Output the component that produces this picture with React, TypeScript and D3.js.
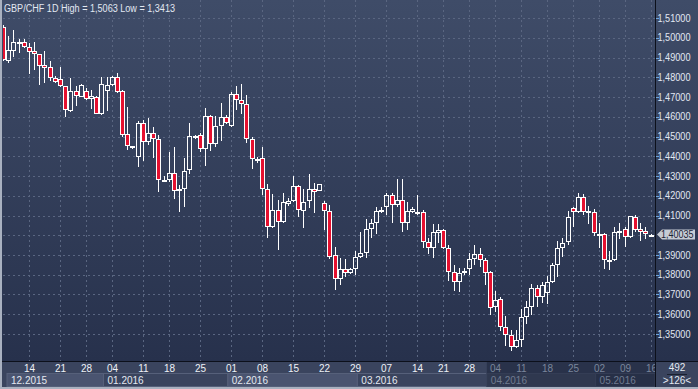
import * as d3 from 'd3';

// GBP/CHF daily candles, Dec 2015 - May 2016 (126 visible bars)
const opens = [
  1.5054, 1.4884, 1.4934, 1.4973, 1.4978, 1.4952, 1.4931, 1.4918, 1.4862, 1.4850,
  1.4795, 1.4790, 1.4756, 1.4631, 1.4730, 1.4702, 1.4730, 1.4691, 1.4702, 1.4612,
  1.4732, 1.4759, 1.4800, 1.4730, 1.4513, 1.4452, 1.4398, 1.4567, 1.4474, 1.4516,
  1.4486, 1.4275, 1.4280, 1.4314, 1.4223, 1.4233, 1.4330, 1.4504, 1.4506, 1.4435,
  1.4604, 1.4462, 1.4553, 1.4597, 1.4553, 1.4715, 1.4685, 1.4663, 1.4486, 1.4385,
  1.4390, 1.4233, 1.4040, 1.4128, 1.4066, 1.4157, 1.4175, 1.4251, 1.4124, 1.4175,
  1.4233, 1.4226, 1.4165, 1.4124, 1.3900, 1.3777, 1.3828, 1.3807, 1.3828, 1.3891,
  1.3909, 1.4030, 1.4060, 1.4128, 1.4142, 1.4204, 1.4153, 1.4178, 1.4060, 1.4119,
  1.4120, 1.4119, 1.3967, 1.3934, 1.4013, 1.4027, 1.3934, 1.3815, 1.3765, 1.3807,
  1.3828, 1.3878, 1.3904, 1.3875, 1.3812, 1.3635, 1.3676, 1.3537, 1.3495, 1.3433,
  1.3470, 1.3585, 1.3635, 1.3731, 1.3686, 1.3706, 1.3765, 1.3849, 1.3934, 1.3964,
  1.4136, 1.4119, 1.4192, 1.4119, 1.4119, 1.4005, 1.4006, 1.3875, 1.3875, 1.4014,
  1.4030, 1.3990, 1.4094, 1.4030, 1.4021, 1.3996,
];
const highs = [
  1.5063, 1.5009, 1.5039, 1.4994, 1.4994, 1.4975, 1.4978, 1.4920, 1.4934, 1.4881,
  1.4806, 1.4850, 1.4758, 1.4795, 1.4756, 1.4766, 1.4747, 1.4735, 1.4705, 1.4803,
  1.4801, 1.4805, 1.4822, 1.4735, 1.4648, 1.4452, 1.4580, 1.4584, 1.4592, 1.4547,
  1.4508, 1.4300, 1.4423, 1.4448, 1.4254, 1.4390, 1.4567, 1.4506, 1.4519, 1.4643,
  1.4609, 1.4604, 1.4668, 1.4609, 1.4727, 1.4756, 1.4766, 1.4710, 1.4499, 1.4395,
  1.4445, 1.4259, 1.4209, 1.4178, 1.4212, 1.4187, 1.4300, 1.4255, 1.4233, 1.4310,
  1.4263, 1.4262, 1.4175, 1.4153, 1.3942, 1.3883, 1.3878, 1.3835, 1.3922, 1.4018,
  1.4081, 1.4081, 1.4145, 1.4145, 1.4215, 1.4212, 1.4283, 1.4283, 1.4170, 1.4145,
  1.4204, 1.4128, 1.3985, 1.4057, 1.4057, 1.4030, 1.3951, 1.3849, 1.3833, 1.3833,
  1.3909, 1.3951, 1.3934, 1.3883, 1.3821, 1.3718, 1.3689, 1.3591, 1.3520, 1.3520,
  1.3625, 1.3669, 1.3753, 1.3748, 1.3765, 1.3794, 1.3858, 1.3972, 1.3985, 1.4124,
  1.4142, 1.4212, 1.4209, 1.4148, 1.4131, 1.4064, 1.4010, 1.3922, 1.4043, 1.4064,
  1.4043, 1.4099, 1.4103, 1.4060, 1.4043, 1.4007,
];
const lows = [
  1.4882, 1.4872, 1.4903, 1.4923, 1.4948, 1.4816, 1.4837, 1.4761, 1.4772, 1.4783,
  1.4769, 1.4752, 1.4597, 1.4626, 1.4654, 1.4699, 1.4685, 1.4641, 1.4612, 1.4610,
  1.4629, 1.4755, 1.4720, 1.4497, 1.4432, 1.4437, 1.4347, 1.4377, 1.4457, 1.4393,
  1.4220, 1.4270, 1.4271, 1.4182, 1.4119, 1.4142, 1.4310, 1.4489, 1.4423, 1.4351,
  1.4427, 1.4448, 1.4479, 1.4563, 1.4547, 1.4634, 1.4612, 1.4466, 1.4337, 1.4364,
  1.4204, 1.3985, 1.4038, 1.3925, 1.4061, 1.4150, 1.4170, 1.4094, 1.4035, 1.4136,
  1.4114, 1.4224, 1.4027, 1.3881, 1.3723, 1.3748, 1.3787, 1.3805, 1.3799, 1.3886,
  1.3886, 1.3985, 1.4006, 1.4112, 1.4103, 1.4060, 1.4142, 1.4018, 1.4027, 1.4115,
  1.4103, 1.3934, 1.3905, 1.3883, 1.3962, 1.3930, 1.3770, 1.3719, 1.3714, 1.3800,
  1.3799, 1.3849, 1.3841, 1.3748, 1.3596, 1.3613, 1.3517, 1.3439, 1.3413, 1.3428,
  1.3436, 1.3551, 1.3596, 1.3638, 1.3655, 1.3652, 1.3757, 1.3790, 1.3891, 1.3951,
  1.4043, 1.4111, 1.4103, 1.4055, 1.3996, 1.3934, 1.3828, 1.3824, 1.3870, 1.3980,
  1.3942, 1.3985, 1.4015, 1.3972, 1.3980, 1.3993,
];
const closes = [
  1.4887, 1.4938, 1.4978, 1.4976, 1.4955, 1.4929, 1.4916, 1.4858, 1.4848, 1.4795,
  1.4774, 1.4756, 1.4634, 1.4730, 1.4704, 1.4759, 1.4691, 1.4704, 1.4614, 1.4764,
  1.4759, 1.4800, 1.4727, 1.4508, 1.4452, 1.4444, 1.4567, 1.4474, 1.4516, 1.4486,
  1.4280, 1.4282, 1.4314, 1.4224, 1.4233, 1.4327, 1.4504, 1.4491, 1.4435, 1.4604,
  1.4462, 1.4553, 1.4597, 1.4570, 1.4715, 1.4685, 1.4663, 1.4486, 1.4385, 1.4374,
  1.4233, 1.4040, 1.4128, 1.4066, 1.4167, 1.4173, 1.4251, 1.4128, 1.4170, 1.4233,
  1.4218, 1.4259, 1.4124, 1.3891, 1.3777, 1.3828, 1.3807, 1.3831, 1.3891, 1.3909,
  1.4030, 1.4060, 1.4124, 1.4116, 1.4204, 1.4153, 1.4178, 1.4060, 1.4124, 1.4131,
  1.4119, 1.3967, 1.3934, 1.4018, 1.4027, 1.3934, 1.3815, 1.3765, 1.3807, 1.3817,
  1.3878, 1.3904, 1.3875, 1.3807, 1.3630, 1.3672, 1.3537, 1.3495, 1.3433, 1.3470,
  1.3585, 1.3635, 1.3731, 1.3686, 1.3748, 1.3765, 1.3849, 1.3934, 1.3962, 1.4091,
  1.4119, 1.4192, 1.4119, 1.4121, 1.4010, 1.4007, 1.3875, 1.3877, 1.4018, 1.4021,
  1.3990, 1.4097, 1.4027, 1.4018, 1.4005, 1.40035,
];

const weekLabels = ['14', '21', '28', '04', '11', '18', '25', '01', '08', '15', '22', '29',
  '07', '14', '21', '28', '04', '11', '18', '25', '02', '09', '16'];
const weekBars = [5, 11, 16, 21, 27, 32, 38, 44, 50, 56, 62, 68, 74, 80, 85, 90, 95, 100, 105, 110, 115, 120, 125];
const monthLabels = ['12.2015', '01.2016', '02.2016', '03.2016', '04.2016', '05.2016'];
const monthStartBars = [0, 20, 44, 69, 94, 115];
const priceTicks = [1.35, 1.36, 1.37, 1.38, 1.39, 1.40, 1.41, 1.42, 1.43, 1.44, 1.45, 1.46, 1.47, 1.48, 1.49, 1.50, 1.51];
const lastPrice = 1.40035;
const shadeFromBar = 94;
const totalBars = 492;

const W = 698;
const H = 389;
const left = 3;
const plotRight = 655;
const plotBottom = 361;
const font = "'Liberation Sans', Arial, sans-serif";
const fmt = (v: number, d: number) => v.toFixed(d).replace('.', ',');

export default function App() {
  const n = closes.length;
  const x = d3.scaleBand<number>().domain(d3.range(n)).range([0.4, 653.1]);
  const step = x.step();
  const y = d3.scaleLinear().domain([1.35, 1.51]).range([334, 18]);
  const cx = (i: number) => Math.round((x(i) ?? 0) + step / 2);
  const shadeX = (x(shadeFromBar) ?? 0) - 0.5;

  const candles = d3.range(n).map((i) => {
    const o = opens[i], c = closes[i];
    const up = c >= o;
    const top = Math.round(y(Math.max(o, c)));
    const bot = Math.max(top + 2, Math.round(y(Math.min(o, c))));
    const hi = Math.round(y(highs[i]));
    const lo = Math.round(y(lows[i]));
    const xc = cx(i);
    return (
      <g key={i}>
        {hi < top && <line x1={xc + 0.5} x2={xc + 0.5} y1={hi} y2={top} stroke="#fff" />}
        {lo > bot && <line x1={xc + 0.5} x2={xc + 0.5} y1={bot} y2={lo} stroke="#fff" />}
        <rect x={xc - 1.5} y={top + 0.5} width={4} height={bot - top - 1}
          fill={up ? 'none' : '#e5102f'} stroke="#fff" strokeWidth={1} />
      </g>
    );
  });

  const months = monthLabels.map((m, k) => {
    const x0 = Math.max(7, (x(monthStartBars[k]) ?? 0) - 0.5);
    const x1 = k < monthLabels.length - 1 ? (x(monthStartBars[k + 1]) ?? 0) - 0.5 : plotRight;
    const shaded = monthStartBars[k] >= shadeFromBar;
    const light = k % 2 === 0;
    const fill = shaded ? (light ? '#2f384f' : '#273047') : (light ? '#4a5470' : '#3a445e');
    return (
      <g key={m}>
        <rect x={x0} y={373.5} width={x1 - x0} height={13} fill={fill}
          stroke={shaded ? '#343d55' : '#56607a'} strokeWidth={1} />
        <text x={x0 + 4} y={384} fontSize={10} fill={shaded ? '#6f7b90' : '#e4e9f1'}>{m}</text>
      </g>
    );
  });

  const yLast = y(lastPrice);

  return (
    <svg width={W} height={H} style={{ position: 'absolute', left: 0, top: 0 }} fontFamily={font}>
      <defs>
        <linearGradient id="bg" x1="0" y1="0" x2="0" y2="1">
          <stop offset="0" stopColor="#3f4c68" />
          <stop offset="1" stopColor="#27314c" />
        </linearGradient>
        <clipPath id="plot">
          <rect x={left} y={0} width={plotRight - left} height={plotBottom} />
        </clipPath>
      </defs>
      <rect x={0} y={0} width={W} height={plotBottom} fill="url(#bg)" />
      <rect x={0} y={plotBottom} width={W} height={H - plotBottom} fill="#3a445e" />
      <rect x={shadeX} y={plotBottom} width={plotRight - shadeX} height={H - plotBottom} fill="#29324a" />

      {/* grid */}
      <g stroke="#5a6681" strokeDasharray="2,3" strokeWidth={1}>
        {priceTicks.map((p) => (
          <line key={p} x1={left} x2={plotRight} y1={Math.round(y(p)) + 0.5} y2={Math.round(y(p)) + 0.5} />
        ))}
        {weekBars.map((b) => (
          <line key={b} x1={cx(b) + 0.5} x2={cx(b) + 0.5} y1={0} y2={plotBottom} />
        ))}
      </g>

      <g clipPath="url(#plot)">{candles}</g>

      {/* title */}
      <text x={4} y={11.5} fontSize={10} fill="#e2e8f2" textLength={171} lengthAdjust="spacingAndGlyphs">
        GBP/CHF 1D  High = 1,5063 Low = 1,3413
      </text>

      {/* price axis */}
      {priceTicks.filter((p) => Math.abs(y(p) - yLast) > 8).map((p) => (
        <g key={p}>
          <line x1={656} x2={659} y1={Math.round(y(p)) + 0.5} y2={Math.round(y(p)) + 0.5} stroke="#6ea6dc" />
          <text x={657.5} y={y(p) + 3.5} fontSize={10} fill="#e2e8f2" textLength={33}
            lengthAdjust="spacingAndGlyphs">{fmt(p, 5)}</text>
        </g>
      ))}
      <path d={`M657,${yLast} L662,${yLast - 5} L695,${yLast - 5} L695,${yLast + 5} L662,${yLast + 5} Z`}
        fill="#c6cbd4" />
      <text x={661} y={yLast + 3.5} fontSize={10} fill="#1c2436" textLength={32.5}
        lengthAdjust="spacingAndGlyphs">{fmt(lastPrice, 5)}</text>

      {/* time axis */}
      {weekLabels.map((w, k) => (
        <text key={k} x={cx(weekBars[k]) + 0.5} y={371.5} fontSize={10} textAnchor="middle"
          fill={weekBars[k] >= shadeFromBar ? '#7a869b' : '#eef2f7'}>{w}</text>
      ))}
      {months}

      {/* separators and frame */}
      <rect x={plotRight} y={plotBottom} width={W - plotRight} height={H - plotBottom} fill="#3a445e" />
      <line x1={0} x2={W} y1={plotBottom + 0.5} y2={plotBottom + 0.5} stroke="#0c101b" />
      <line x1={plotRight + 0.5} x2={plotRight + 0.5} y1={0} y2={H} stroke="#0c101b" />
      <text x={677} y={370.5} fontSize={10} textAnchor="middle" fill="#e2e8f2">{totalBars}</text>
      <line x1={667} x2={687} y1={374.5} y2={374.5} stroke="#1a2030" />
      <text x={677} y={384} fontSize={10} textAnchor="middle" fill="#e2e8f2">{`>${n}<`}</text>
      <rect x={0} y={0} width={2} height={H} fill="#a9b1c0" />
      <rect x={0} y={H - 2} width={W} height={2} fill="#a9b1c0" />
    </svg>
  );
}
